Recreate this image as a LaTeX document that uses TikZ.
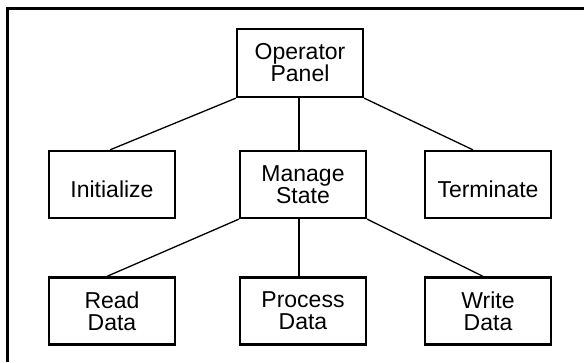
\documentclass[tikz,border=0pt]{standalone}
\usepackage{fontspec}
\setmainfont{Liberation Sans}
\begin{document}
\begin{tikzpicture}[x=1pt,y=-1pt,
  box/.style={draw=black,line width=2.3pt,minimum width=126pt,minimum height=67pt,
    inner sep=0pt,align=center,font=\fontsize{23}{22}\selectfont},
  single/.style={text height=26pt,text depth=0pt},
  link/.style={draw=black,line width=1.3pt},
  frame/.style={draw=black,line width=3pt}]
\useasboundingbox (0,0) rectangle (584,362);
\coordinate (fb) at (7,362);
\coordinate (fc) at (7,8);
\coordinate (fr) at (584,8);
\draw[frame] (fb) -- (fc) -- (fr);
\node[box,minimum height=68pt] (op) at (300,63) {Operator\\Panel};
\node[box,single] (init) at (112,184.5) {Initialize};
\node[box] (ms) at (303,184.5) {Manage\\State};
\node[box,single] (term) at (488,184.5) {Terminate};
\node[box] (read) at (112,311) {Read\\Data};
\node[box] (proc) at (303,311) {Process\\Data};
\node[box] (write) at (488,311) {Write\\Data};
\draw[link] (op.south west) -- ([xshift=-2pt]init.north);
\draw[link] ([xshift=-1pt]op.south) -- ([xshift=-1pt]op.south |- ms.north);
\draw[link] (op.south east) -- ([xshift=-15pt]term.north);
\draw[link] (ms.south west) -- ([xshift=-5pt]read.north);
\draw[link] ([xshift=-4pt]ms.south) -- ([xshift=-4pt]ms.south |- proc.north);
\draw[link] (ms.south east) -- ([xshift=-5pt]write.north);
\end{tikzpicture}
\end{document}
